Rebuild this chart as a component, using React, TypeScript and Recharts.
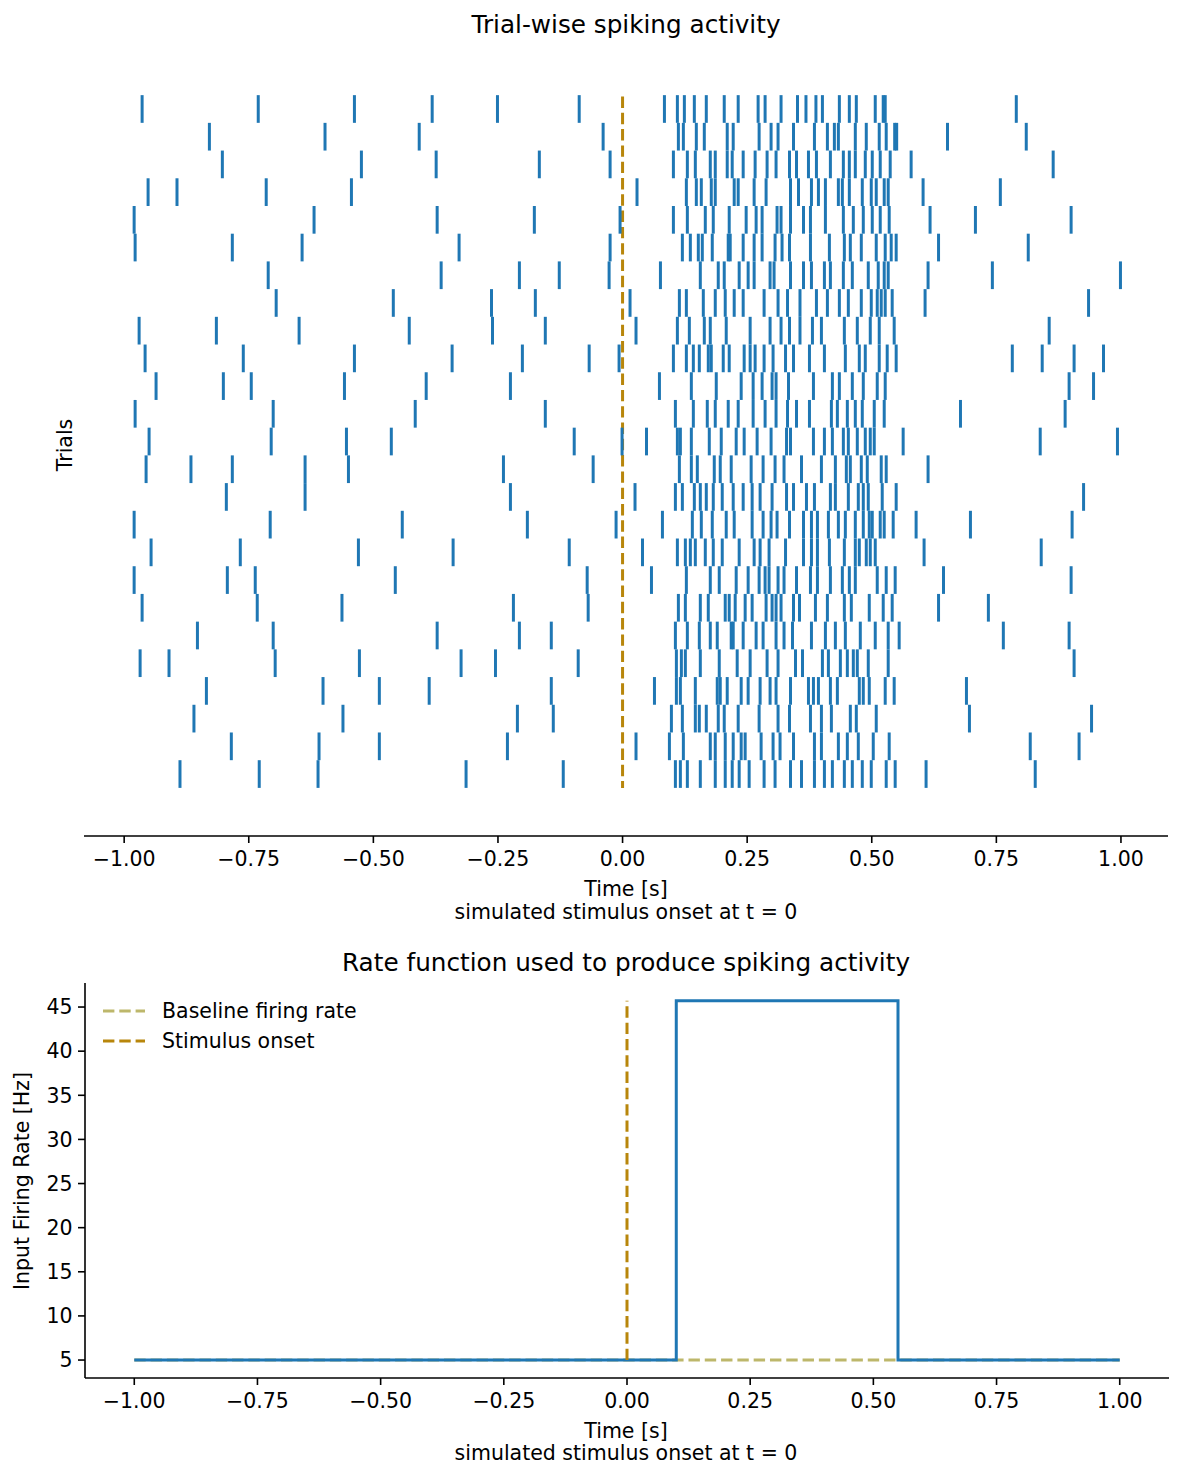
import React from "react";
import {
  ScatterChart,
  Scatter,
  LineChart,
  Line,
  XAxis,
  YAxis,
  ReferenceLine,
} from "recharts";

// spike times [s] per trial, top row first
const trial1 = [-0.964, -0.731, -0.538, -0.382, -0.251, -0.087, 0.084, 0.11, 0.124, 0.144, 0.168, 0.204, 0.232, 0.272, 0.286, 0.318, 0.351, 0.368, 0.388, 0.401, 0.435, 0.455, 0.469, 0.507, 0.523, 0.527, 0.79];
const trial2 = [-0.829, -0.597, -0.408, -0.039, 0.112, 0.122, 0.148, 0.164, 0.21, 0.222, 0.274, 0.298, 0.312, 0.343, 0.385, 0.411, 0.425, 0.433, 0.467, 0.489, 0.515, 0.529, 0.546, 0.55, 0.652, 0.81];
const trial3 = [-0.803, -0.524, -0.374, -0.167, -0.025, 0.102, 0.13, 0.146, 0.176, 0.186, 0.21, 0.22, 0.242, 0.266, 0.29, 0.308, 0.335, 0.349, 0.373, 0.389, 0.417, 0.443, 0.455, 0.467, 0.487, 0.501, 0.517, 0.537, 0.579, 0.864];
const trial4 = [-0.952, -0.894, -0.715, -0.544, 0.029, 0.128, 0.148, 0.158, 0.178, 0.186, 0.224, 0.232, 0.264, 0.288, 0.337, 0.353, 0.379, 0.393, 0.407, 0.433, 0.441, 0.455, 0.481, 0.499, 0.509, 0.525, 0.533, 0.603, 0.758];
const trial5 = [-0.98, -0.619, -0.372, -0.177, -0.005, 0.102, 0.13, 0.166, 0.182, 0.214, 0.248, 0.268, 0.28, 0.31, 0.318, 0.337, 0.363, 0.377, 0.407, 0.443, 0.463, 0.483, 0.501, 0.517, 0.535, 0.617, 0.708, 0.9];
const trial6 = [-0.978, -0.783, -0.643, -0.328, -0.025, 0.12, 0.136, 0.152, 0.16, 0.18, 0.212, 0.216, 0.242, 0.264, 0.28, 0.306, 0.32, 0.335, 0.377, 0.415, 0.445, 0.457, 0.479, 0.509, 0.527, 0.539, 0.549, 0.634, 0.814];
const trial7 = [-0.711, -0.364, -0.207, -0.127, -0.027, 0.076, 0.156, 0.192, 0.204, 0.234, 0.252, 0.264, 0.296, 0.304, 0.337, 0.363, 0.379, 0.405, 0.417, 0.443, 0.461, 0.493, 0.513, 0.525, 0.533, 0.613, 0.742, 0.999];
const trial8 = [-0.695, -0.46, -0.263, -0.175, 0.015, 0.114, 0.128, 0.162, 0.186, 0.206, 0.224, 0.242, 0.284, 0.312, 0.331, 0.356, 0.389, 0.411, 0.435, 0.453, 0.479, 0.499, 0.511, 0.519, 0.527, 0.541, 0.607, 0.935];
const trial9 = [-0.97, -0.815, -0.649, -0.428, -0.261, -0.155, 0.027, 0.11, 0.134, 0.164, 0.176, 0.208, 0.256, 0.296, 0.318, 0.335, 0.356, 0.381, 0.399, 0.445, 0.471, 0.497, 0.515, 0.545, 0.856];
const trial10 = [-0.958, -0.761, -0.538, -0.342, -0.201, -0.067, -0.007, 0.102, 0.128, 0.142, 0.154, 0.172, 0.178, 0.202, 0.214, 0.244, 0.256, 0.266, 0.284, 0.302, 0.327, 0.343, 0.375, 0.405, 0.447, 0.475, 0.487, 0.515, 0.531, 0.549, 0.782, 0.842, 0.906, 0.965];
const trial11 = [-0.936, -0.801, -0.745, -0.558, -0.394, -0.225, 0.074, 0.138, 0.188, 0.238, 0.262, 0.28, 0.3, 0.308, 0.333, 0.383, 0.421, 0.435, 0.461, 0.483, 0.511, 0.527, 0.896, 0.945];
const trial12 = [-0.978, -0.701, -0.416, -0.155, 0.106, 0.142, 0.17, 0.186, 0.212, 0.232, 0.262, 0.286, 0.308, 0.331, 0.349, 0.375, 0.419, 0.431, 0.451, 0.467, 0.481, 0.505, 0.525, 0.678, 0.888];
const trial13 = [-0.95, -0.705, -0.554, -0.464, -0.097, -0.001, 0.048, 0.11, 0.116, 0.138, 0.174, 0.198, 0.228, 0.244, 0.27, 0.298, 0.329, 0.337, 0.383, 0.405, 0.421, 0.443, 0.453, 0.471, 0.487, 0.497, 0.505, 0.563, 0.838, 0.993];
const trial14 = [-0.956, -0.866, -0.783, -0.637, -0.55, -0.239, -0.059, 0.114, 0.138, 0.15, 0.184, 0.196, 0.218, 0.258, 0.282, 0.306, 0.324, 0.359, 0.399, 0.427, 0.449, 0.457, 0.479, 0.491, 0.519, 0.529, 0.613];
const trial15 = [-0.795, -0.637, -0.225, 0.025, 0.106, 0.12, 0.144, 0.156, 0.168, 0.182, 0.2, 0.222, 0.242, 0.26, 0.276, 0.3, 0.329, 0.343, 0.369, 0.385, 0.417, 0.427, 0.453, 0.473, 0.483, 0.493, 0.521, 0.549, 0.925];
const trial16 = [-0.98, -0.707, -0.442, -0.191, -0.013, 0.08, 0.14, 0.158, 0.18, 0.208, 0.224, 0.26, 0.282, 0.298, 0.31, 0.335, 0.363, 0.379, 0.391, 0.413, 0.433, 0.447, 0.467, 0.483, 0.495, 0.501, 0.517, 0.525, 0.543, 0.589, 0.698, 0.902];
const trial17 = [-0.946, -0.767, -0.53, -0.34, -0.107, 0.04, 0.11, 0.126, 0.136, 0.146, 0.166, 0.182, 0.2, 0.234, 0.264, 0.276, 0.294, 0.327, 0.363, 0.379, 0.391, 0.415, 0.445, 0.467, 0.475, 0.489, 0.497, 0.507, 0.605, 0.84];
const trial18 = [-0.98, -0.793, -0.737, -0.456, -0.071, 0.058, 0.128, 0.176, 0.194, 0.228, 0.252, 0.274, 0.286, 0.294, 0.312, 0.324, 0.349, 0.377, 0.391, 0.417, 0.441, 0.455, 0.467, 0.511, 0.529, 0.547, 0.644, 0.9];
const trial19 = [-0.964, -0.733, -0.563, -0.219, -0.069, 0.112, 0.126, 0.156, 0.172, 0.206, 0.214, 0.226, 0.246, 0.26, 0.288, 0.3, 0.308, 0.318, 0.343, 0.355, 0.387, 0.411, 0.445, 0.459, 0.495, 0.523, 0.541, 0.634, 0.734];
const trial20 = [-0.853, -0.701, -0.372, -0.207, -0.143, 0.106, 0.13, 0.154, 0.176, 0.19, 0.218, 0.222, 0.242, 0.268, 0.282, 0.308, 0.324, 0.341, 0.379, 0.407, 0.427, 0.447, 0.477, 0.507, 0.533, 0.555, 0.764, 0.896];
const trial21 = [-0.968, -0.91, -0.697, -0.528, -0.324, -0.255, -0.089, 0.108, 0.118, 0.126, 0.156, 0.194, 0.23, 0.256, 0.29, 0.312, 0.347, 0.361, 0.401, 0.413, 0.437, 0.451, 0.463, 0.471, 0.493, 0.533, 0.906];
const trial22 = [-0.835, -0.601, -0.488, -0.388, -0.143, 0.064, 0.108, 0.116, 0.146, 0.19, 0.196, 0.21, 0.238, 0.252, 0.276, 0.296, 0.308, 0.337, 0.373, 0.383, 0.393, 0.417, 0.431, 0.475, 0.483, 0.495, 0.527, 0.545, 0.69];
const trial23 = [-0.86, -0.561, -0.211, -0.139, 0.098, 0.12, 0.146, 0.154, 0.168, 0.192, 0.204, 0.232, 0.274, 0.312, 0.335, 0.377, 0.399, 0.419, 0.457, 0.469, 0.509, 0.696, 0.941];
const trial24 = [-0.785, -0.609, -0.488, -0.231, 0.027, 0.094, 0.122, 0.176, 0.186, 0.206, 0.222, 0.238, 0.246, 0.278, 0.302, 0.316, 0.343, 0.385, 0.399, 0.433, 0.451, 0.473, 0.503, 0.535, 0.818, 0.916];
const trial25 = [-0.888, -0.729, -0.611, -0.314, -0.119, 0.106, 0.116, 0.13, 0.156, 0.186, 0.206, 0.22, 0.234, 0.254, 0.284, 0.306, 0.337, 0.359, 0.385, 0.405, 0.421, 0.445, 0.461, 0.481, 0.499, 0.529, 0.547, 0.609, 0.828];

const trials = [
  trial1, trial2, trial3, trial4, trial5, trial6, trial7, trial8, trial9, trial10,
  trial11, trial12, trial13, trial14, trial15, trial16, trial17, trial18, trial19, trial20,
  trial21, trial22, trial23, trial24, trial25,
];

const timeTicks = [-1, -0.75, -0.5, -0.25, 0, 0.25, 0.5, 0.75, 1];
const rateTicks = [5, 10, 15, 20, 25, 30, 35, 40, 45];

// rate function (step), baseline and onset marker
const rateTimes = [-1, 0.1, 0.55, 1];
const rateValues = [5, 45.7, 5, 5];
const baselineTimes = [-1, 1];
const baselineValues = [5, 5];
const onsetTimes = [0, 0];
const onsetValues = [5, 45.7];

const FONT = "'DejaVu Sans', sans-serif";
const BLUE = "#1f77b4";
const GOLD = "#b8860b";
const KHAKI = "#bdb76b";
const DASH = "11.4 4.9";

const fmt = (v: number) => v.toFixed(2).replace("-", "\u2212");

const spikes = trials.flatMap((times, i) => times.map((t) => ({ t, trial: i })));
const rateData = rateTimes.map((t, i) => ({ t, v: rateValues[i] }));
const baselineData = baselineTimes.map((t, i) => ({ t, v: baselineValues[i] }));
const onsetData = onsetTimes.map((t, i) => ({ t, v: onsetValues[i] }));

const axisLine = { stroke: "#000", strokeWidth: 1.6 };
const tickStyle = { fill: "#000", fontSize: 20.5, fontFamily: FONT };

function SpikeTick(props: any) {
  const { cx, cy } = props;
  if (cx == null || cy == null) return <g />;
  return <line x1={cx} x2={cx} y1={cy - 13.85} y2={cy + 13.85} stroke={BLUE} strokeWidth={3} />;
}

function Txt({ x, y, children, size = 20.5, rotate = false, align = "center" }: any) {
  return (
    <div
      style={{
        position: "absolute",
        left: x,
        top: y,
        transform: `translate(${align === "left" ? "0" : "-50%"}, -50%)${rotate ? " rotate(-90deg)" : ""}`,
        fontFamily: FONT,
        fontSize: size,
        color: "#000",
        whiteSpace: "nowrap",
        lineHeight: 1,
      }}
    >
      {children}
    </div>
  );
}

function LegendRow({ y, color, label }: { y: number; color: string; label: string }) {
  return (
    <>
      <svg style={{ position: "absolute", left: 100, top: y - 5 }} width={50} height={10}>
        <line x1={3} x2={45} y1={5} y2={5} stroke={color} strokeWidth={3} strokeDasharray={DASH} />
      </svg>
      <Txt x={162} y={y} align="left">{label}</Txt>
    </>
  );
}

export default function App() {
  return (
    <div style={{ position: "absolute", left: 0, top: 0, width: 1184, height: 1479, background: "#fff" }}>
      <div style={{ position: "absolute", left: 0, top: 0 }}>
        <ScatterChart width={1184} height={940} margin={{ top: 60, right: 16, bottom: 0, left: 84 }}>
          <XAxis
            type="number"
            dataKey="t"
            domain={[-1.0806, 1.0944]}
            ticks={timeTicks}
            interval={0}
            tickFormatter={fmt}
            height={104}
            axisLine={axisLine}
            tickLine={axisLine}
            tickSize={7}
            tickMargin={8}
            tick={tickStyle}
            allowDataOverflow
          />
          <YAxis type="number" dataKey="trial" domain={[-1.768, 26.236]} reversed hide allowDataOverflow />
          <Scatter data={spikes} shape={SpikeTick} isAnimationActive={false} />
          <ReferenceLine
            segment={[{ x: 0, y: -0.45 }, { x: 0, y: 24.5 }]}
            stroke={GOLD}
            strokeWidth={3}
            strokeDasharray={DASH}
          />
        </ScatterChart>
      </div>

      <div style={{ position: "absolute", left: 0, top: 940 }}>
        <LineChart width={1184} height={539} margin={{ top: 42.9, right: 15, bottom: 0, left: 0 }}>
          <XAxis
            type="number"
            dataKey="t"
            domain={[-1.1, 1.1]}
            ticks={timeTicks}
            interval={0}
            tickFormatter={fmt}
            height={101}
            axisLine={axisLine}
            tickLine={axisLine}
            tickSize={7}
            tickMargin={8}
            tick={tickStyle}
            allowDataOverflow
          />
          <YAxis
            type="number"
            domain={[2.965, 47.735]}
            ticks={rateTicks}
            interval={0}
            width={85}
            axisLine={axisLine}
            tickLine={axisLine}
            tickSize={7}
            tickMargin={5.5}
            tick={tickStyle}
            allowDataOverflow
          />
          <Line data={baselineData} dataKey="v" type="linear" stroke={KHAKI} strokeWidth={3} strokeDasharray={DASH} dot={false} isAnimationActive={false} />
          <Line data={rateData} dataKey="v" type="stepAfter" stroke={BLUE} strokeWidth={3} dot={false} isAnimationActive={false} />
          <Line data={onsetData} dataKey="v" type="linear" stroke={GOLD} strokeWidth={3} strokeDasharray={DASH} dot={false} isAnimationActive={false} />
        </LineChart>
      </div>

      <Txt x={626} y={25} size={24.7}>Trial-wise spiking activity</Txt>
      <Txt x={65} y={445} rotate>Trials</Txt>
      <Txt x={626} y={889}>Time [s]</Txt>
      <Txt x={626} y={912}>simulated stimulus onset at t = 0</Txt>

      <Txt x={626} y={963} size={24.7}>Rate function used to produce spiking activity</Txt>
      <Txt x={22} y={1181} rotate>Input Firing Rate [Hz]</Txt>
      <Txt x={626} y={1431}>Time [s]</Txt>
      <Txt x={626} y={1453}>simulated stimulus onset at t = 0</Txt>
      <LegendRow y={1011} color={KHAKI} label="Baseline firing rate" />
      <LegendRow y={1041} color={GOLD} label="Stimulus onset" />
    </div>
  );
}
